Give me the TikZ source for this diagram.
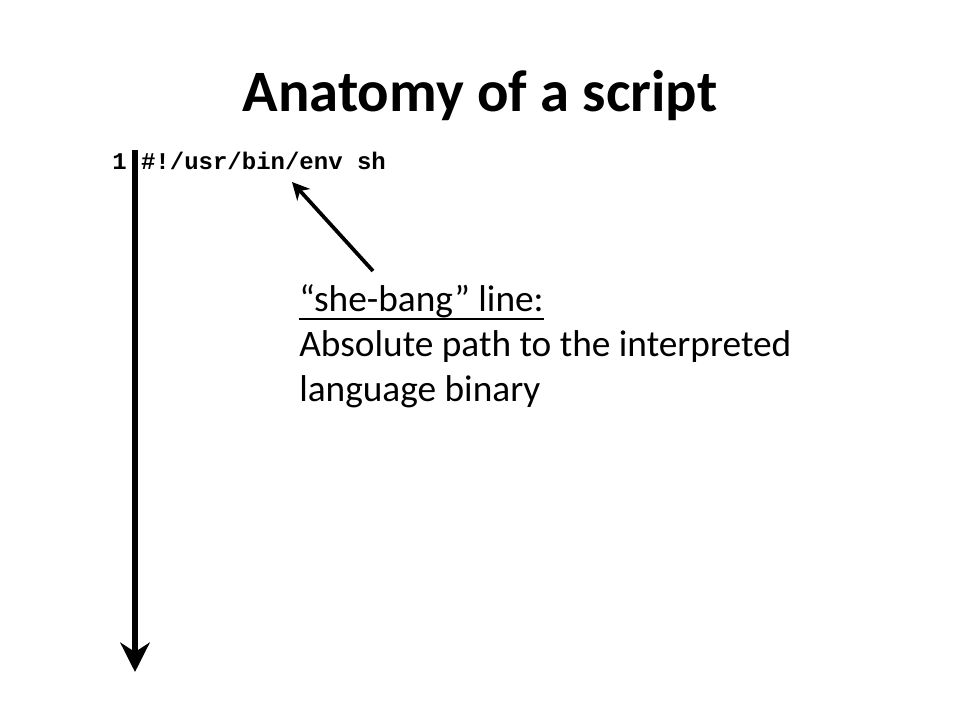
\documentclass[tikz,border=0pt]{standalone}
\usepackage{fontspec}
\setmainfont{Carlito}
\newfontfamily\codefont{Liberation Mono}
\usetikzlibrary{arrows.meta}
\newsavebox\ulbox
\newcommand\ulined[1]{\sbox\ulbox{#1}\rlap{\rule[-0.22em]{\wd\ulbox}{0.07em}}\usebox\ulbox}

\begin{document}
\begin{tikzpicture}[x=0.75pt,y=-0.75pt,
    titletext/.style={font=\bfseries\fontsize{44}{53}\selectfont},
    codetext/.style={font=\codefont\bfseries\fontsize{18}{22}\selectfont, inner sep=0pt},
    bodytext/.style={font=\fontsize{28}{33.4}\selectfont, align=left, inner sep=0pt},
    timeline/.style={line width=4.5pt, -{Stealth[length=22pt,width=22pt,inset=7pt]}},
    pointer/.style={line width=2.8pt, -{Stealth[length=13pt,width=13pt,inset=4pt]}}]
                % page
                \useasboundingbox[fill=white] (0,0) rectangle (960,720);
                % title and code line
                \node[titletext, anchor=base] (title) at (480,112) {Anatomy of a script};
                \node[codetext, anchor=base west] (code) at (112,170) {1 \#!/usr/bin/env sh};
                % running order of the script
                \coordinate (start) at (135,150);
                \coordinate (finish) at (135,672);
                \draw[timeline] (start) -- (finish);
                % explanation of the first line
                \node[bodytext, anchor=base west] (note) at (299,401)
                    {\ulined{“she-bang” line:}\\Absolute path to the interpreted\\language binary};
                \coordinate (tail) at (373,271);
                \coordinate (tip) at (292,182);
                \draw[pointer] (tail) -- (tip);
            \end{tikzpicture}
\end{document}
